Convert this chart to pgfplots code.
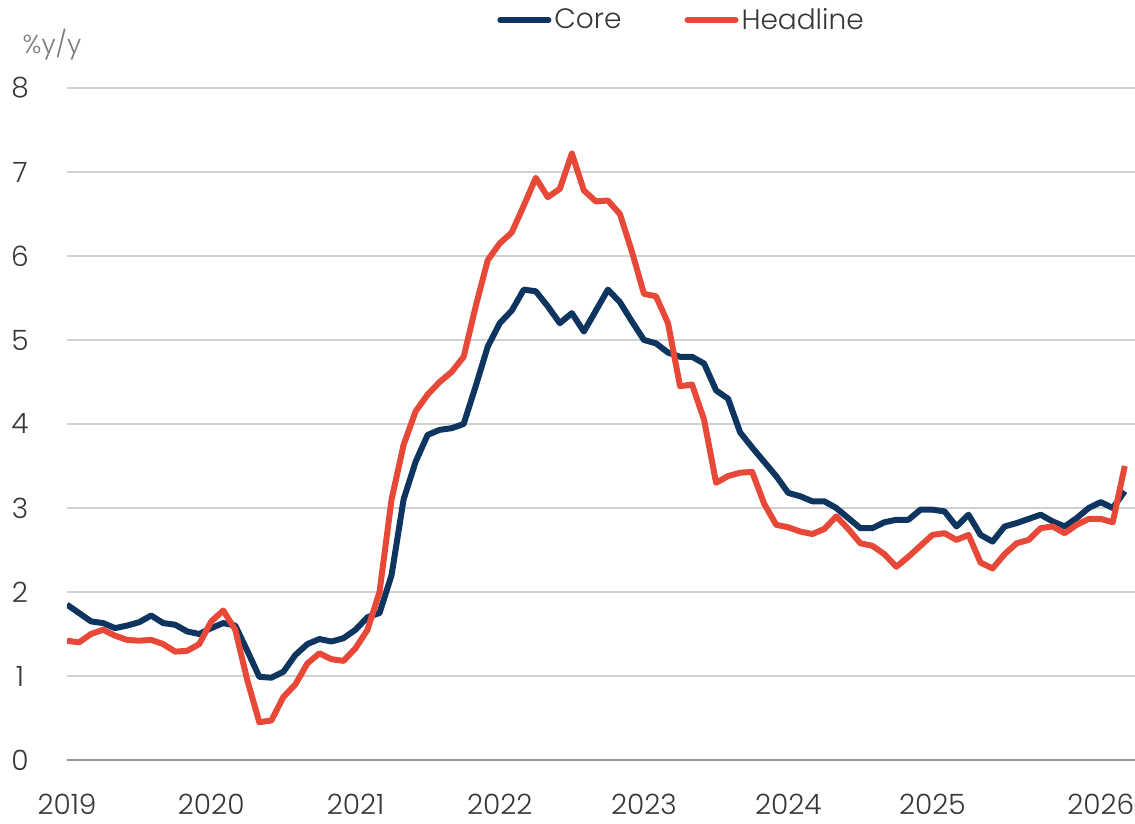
\documentclass[border=0pt]{standalone}
\usepackage{pgfplots}
\usepackage{pgfplotstable}
\pgfplotsset{compat=1.18}
\usepackage{fontspec}
\setmainfont{Poppins}[UprightFont=* Light]

\definecolor{corecol}{RGB}{14,52,96}
\definecolor{headcol}{RGB}{232,72,56}
\definecolor{gridgray}{RGB}{208,208,208}
\definecolor{basegray}{RGB}{150,150,150}
\definecolor{txtgray}{RGB}{55,55,55}
\definecolor{unitgray}{RGB}{125,125,125}

% month index from Jan 2019, core and headline inflation (%y/y)
\pgfplotstableread{
m core headline
0 1.85 1.42
1 1.75 1.40
2 1.65 1.50
3 1.63 1.55
4 1.57 1.48
5 1.60 1.43
6 1.64 1.42
7 1.72 1.43
8 1.63 1.38
9 1.61 1.29
10 1.53 1.30
11 1.50 1.38
12 1.57 1.65
13 1.63 1.78
14 1.60 1.55
15 1.30 0.95
16 0.99 0.45
17 0.98 0.47
18 1.05 0.75
19 1.25 0.90
20 1.38 1.15
21 1.44 1.27
22 1.41 1.20
23 1.45 1.18
24 1.55 1.33
25 1.70 1.55
26 1.75 2.00
27 2.20 3.10
28 3.10 3.75
29 3.55 4.15
30 3.87 4.35
31 3.93 4.50
32 3.95 4.62
33 4.00 4.80
34 4.45 5.40
35 4.92 5.95
36 5.20 6.15
37 5.35 6.28
38 5.60 6.60
39 5.58 6.93
40 5.40 6.70
41 5.20 6.80
42 5.32 7.22
43 5.10 6.78
44 5.35 6.65
45 5.60 6.66
46 5.45 6.50
47 5.22 6.05
48 5.00 5.55
49 4.96 5.52
50 4.85 5.20
51 4.80 4.45
52 4.80 4.47
53 4.72 4.05
54 4.40 3.30
55 4.30 3.38
56 3.90 3.42
57 3.72 3.43
58 3.55 3.05
59 3.38 2.80
60 3.18 2.77
61 3.14 2.72
62 3.08 2.69
63 3.08 2.75
64 3.00 2.90
65 2.88 2.75
66 2.76 2.58
67 2.76 2.55
68 2.83 2.45
69 2.86 2.30
70 2.86 2.42
71 2.98 2.55
72 2.98 2.68
73 2.96 2.70
74 2.78 2.62
75 2.92 2.68
76 2.68 2.35
77 2.60 2.28
78 2.78 2.45
79 2.82 2.58
80 2.87 2.62
81 2.92 2.76
82 2.84 2.78
83 2.78 2.70
84 2.88 2.80
85 3.00 2.87
86 3.07 2.87
87 3.00 2.83
88 3.20 3.50
}\cpidata

\begin{document}
\begin{tikzpicture}
\useasboundingbox (-33.5pt,-32pt) rectangle (534pt,380pt);
\begin{axis}[
  scale only axis,
  width=534pt, height=336pt,
  xmin=0, xmax=88.85,
  ymin=0, ymax=8,
  clip mode=individual,
  axis x line*=bottom,
  axis y line*=left,
  x axis line style={draw=basegray, line width=1.3pt, -},
  y axis line style={draw=none},
  ytick={0,1,...,8},
  xtick={0,12,24,36,48,60,72,86},
  xticklabels={2019,2020,2021,2022,2023,2024,2025,2026},
  major tick length=0pt,
  ymajorgrids,
  major grid style={draw=gridgray, line width=1pt},
  /pgf/number format/assume math mode=true,
  tick label style={font=\fontsize{14}{16}\selectfont, text=txtgray},
  yticklabel style={anchor=center, xshift=-23.5pt},
  xticklabel style={anchor=center, yshift=-22pt},
  legend columns=2,
  legend style={at={(0.4026,1.101)}, anchor=west, draw=none, fill=none,
    inner sep=0pt, font=\fontsize{14}{16}\selectfont, text=txtgray,
    /tikz/every even column/.append style={column sep=30pt},
    nodes={inner sep=1.5pt}},
  legend image code/.code={\draw[#1, line cap=round] (0pt,0pt) -- (24pt,0pt);},
  every axis plot/.append style={line width=3pt, line join=round},
]
\addplot[corecol, no markers] table[x=m, y=core] {\cpidata};
\addplot[headcol, no markers] table[x=m, y=headline] {\cpidata};
\legend{Core, Headline}
\node[anchor=center, font=\fontsize{13}{15}\selectfont, text=unitgray]
  at (rel axis cs:-0.014,1.064) {\%y/y};
\end{axis}
\end{tikzpicture}
\end{document}
